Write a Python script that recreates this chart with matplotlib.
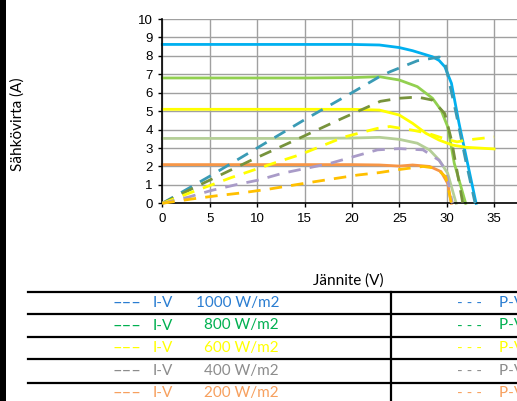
import matplotlib
matplotlib.use('Agg')
import matplotlib.pyplot as plt
from matplotlib.lines import Line2D
from matplotlib.patches import Rectangle

# I-V curves (current in A) for each irradiance level
irradiance = ['1000 W/m2', '800 W/m2', '600 W/m2', '400 W/m2', '200 W/m2']

v_iv_1000 = [0, 5, 10, 15, 20, 22.9, 25, 26.4, 28.5, 29.2, 29.8, 30.5, 31.3, 32.2, 33.1]
i_iv_1000 = [8.62, 8.62, 8.62, 8.62, 8.62, 8.59, 8.45, 8.28, 7.95, 7.75, 7.41, 6.51, 4.34, 2.17, 0]

v_iv_800 = [0, 5, 10, 15, 20, 22.9, 25, 26.9, 28.5, 29.4, 30.1, 30.8, 32.0]
i_iv_800 = [6.8, 6.8, 6.8, 6.8, 6.82, 6.87, 6.69, 6.33, 5.7, 5.06, 4.16, 2.17, 0]

v_iv_600 = [0, 5, 10, 15, 20, 22.9, 25, 26.4, 27.8, 29.2, 30.6, 32.0, 35.0]
i_iv_600 = [5.1, 5.1, 5.1, 5.1, 5.1, 5.06, 4.79, 4.34, 3.8, 3.43, 3.16, 3.04, 2.95]

v_iv_400 = [0, 5, 10, 15, 20, 22.9, 25, 26.9, 28.2, 29.2, 30.1, 30.6, 31.0]
i_iv_400 = [3.52, 3.52, 3.52, 3.52, 3.54, 3.58, 3.47, 3.26, 2.89, 2.35, 1.63, 0.72, 0]

v_iv_200 = [0, 5, 10, 15, 20, 22.9, 25, 26.4, 28.2, 29.4, 30.1, 30.5]
i_iv_200 = [2.1, 2.1, 2.1, 2.1, 2.1, 2.08, 2.02, 2.08, 2.0, 1.72, 1.08, 0]

# P-V curves (power in W), secondary axis 0..300 W
v_pv_1000 = [0, 5, 10, 15, 20, 22.9, 24, 26.9, 29.2, 29.8, 31.0, 32.0, 33.0]
p_pv_1000 = [0, 44, 90, 136, 180, 206, 214, 232, 238, 230, 146, 70, 0]

v_pv_800 = [0, 4.5, 9.5, 13.9, 18.8, 23, 25, 26.9, 28.5, 29.8, 30.5, 31.2, 31.7]
p_pv_800 = [0, 34, 71, 102, 137, 166, 171, 173, 168, 146, 103, 43, 0]

v_pv_600 = [0, 2.75, 7.3, 11.9, 14.5, 19.2, 22.7, 24, 26.4, 28, 30, 31.1, 32.1, 35.0]
p_pv_600 = [0, 16, 42, 66, 79, 108, 122, 125, 119, 114, 104, 100, 103, 108]

v_pv_400 = [0, 2.75, 5.2, 7.7, 10.2, 12.7, 17.7, 20.2, 22.7, 25, 27.5, 29.2, 29.9, 30.6]
p_pv_400 = [0, 10, 21, 30, 38, 49, 65, 76, 87, 89, 87, 70, 54, 0]

v_pv_200 = [0, 3.1, 5.6, 8.4, 11.2, 12.4, 16, 20.6, 22.9, 25, 27.5, 28.9, 29.9, 30.5]
p_pv_200 = [0, 7, 12, 17, 23, 26, 35, 46, 50, 55, 60, 57, 43, 0]

iv_colors = ['#00B0F0', '#92D050', '#FFFF00', '#B5CF97', '#F79646']
pv_colors = ['#3A9BB5', '#77933C', '#FFFF00', '#A99BC8', '#FFC000']
text_colors = ['#2A7DD1', '#00B050', '#FFFF00', '#8C8C8C', '#F7A05E']

W, H = 517, 401


def fx(x):
    return x / W


def fy(y):
    return 1 - y / H


fig = plt.figure(figsize=(W / 100, H / 100), dpi=100)
fig.patch.set_facecolor('white')

# axes extends past the right edge of the figure
x0, y0, y10 = 162.3, 203.3, 19.0
px_per_v = 9.48
ax = fig.add_axes([fx(x0), fy(y0), 40 * px_per_v / W, (y0 - y10) / H])
ax.set_xlim(0, 40)
ax.set_ylim(0, 10)
ax.set_xticks(range(0, 36, 5))
ax.set_xticks([40], minor=True)
ax.set_yticks(range(0, 11))
ax.grid(True, which='both', color='#A0A0A0', linewidth=1.0)
ax.set_axisbelow(True)
for s in ['top', 'right']:
    ax.spines[s].set_visible(False)
for s in ['left', 'bottom']:
    ax.spines[s].set_color('black')
    ax.spines[s].set_linewidth(1.2)
ax.tick_params(direction='out', length=3, width=1, color='black', pad=4,
               labelsize=9.5)
ax.tick_params(which='minor', length=0)
for lab in ax.get_xticklabels() + ax.get_yticklabels():
    lab.set_fontfamily('Liberation Sans')

iv_v = [v_iv_1000, v_iv_800, v_iv_600, v_iv_400, v_iv_200]
iv_i = [i_iv_1000, i_iv_800, i_iv_600, i_iv_400, i_iv_200]
for v, i, c in zip(iv_v, iv_i, iv_colors):
    ax.plot(v, i, color=c, linewidth=2.0, solid_joinstyle='round', clip_on=False)

ax2 = ax.twinx()
ax2.set_ylim(0, 300)
ax2.set_yticks([])
for s in ax2.spines.values():
    s.set_visible(False)
pv_v = [v_pv_1000, v_pv_800, v_pv_600, v_pv_400, v_pv_200]
pv_p = [p_pv_1000, p_pv_800, p_pv_600, p_pv_400, p_pv_200]
for v, p, c in zip(pv_v, pv_p, pv_colors):
    ax2.plot(v, p, color=c, linewidth=2.0, linestyle=(0, (4.5, 3.3)),
             dash_capstyle='butt', clip_on=False)

# thick bar along the left edge
fig.add_artist(Rectangle((0, 0), fx(6), 1, transform=fig.transFigure,
                         facecolor='black', edgecolor='none'))

fig.text(fx(18), fy(124), 'Sähkövirta (A)', rotation=90, ha='center',
         va='center', fontsize=11, family='Lato')
fig.text(fx(348), fy(281), 'Jännite (V)', ha='center', va='center',
         fontsize=11, family='Lato')

# legend table under the chart
row_lines = [291.7, 314, 336.7, 359.3, 382.7]
for y in row_lines:
    fig.add_artist(Line2D([fx(28), 1], [fy(y), fy(y)], transform=fig.transFigure,
                          color='black', linewidth=1.6))
fig.add_artist(Line2D([fx(391), fx(391)], [fy(291.7), 0], transform=fig.transFigure,
                      color='black', linewidth=1.6))

row_centers = [303, 325.5, 348, 371, 393]
for y, name, c in zip(row_centers, irradiance, text_colors):
    kw = dict(va='center', family='Lato', color=c)
    fig.text(fx(113), fy(y), '–––', ha='left', fontsize=12, **kw)
    fig.text(fx(153), fy(y), 'I-V', ha='left', fontsize=11, **kw)
    fig.text(fx(279), fy(y), name, ha='right', fontsize=11, **kw)
    fig.text(fx(457), fy(y), '- - -', ha='left', fontsize=11, **kw)
    fig.text(fx(499), fy(y), 'P-V   ' + name, ha='left', fontsize=11, **kw)

fig.savefig('out.png', dpi=100)
